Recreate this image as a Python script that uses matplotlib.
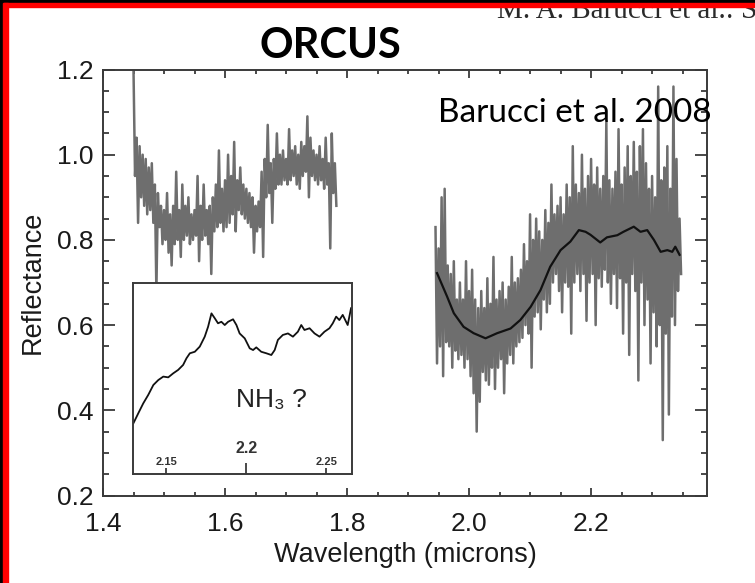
import numpy as np
import matplotlib
matplotlib.use("Agg")
import matplotlib.pyplot as plt
from matplotlib.ticker import MultipleLocator, FixedLocator
from matplotlib.patches import Rectangle

# ---------------- data ----------------
h_start = 1.450
h_step = 0.005
h_hi = [1.20, 1.04, 1.02, 1.00, 0.99, 0.97, 0.98, 0.93, 0.91, 0.88,
        0.87, 0.91, 0.86, 0.88, 0.96, 0.87, 0.93, 0.88, 0.90, 0.86,
        0.87, 0.95, 0.88, 0.93, 0.87, 0.88, 0.90, 0.93, 1.01, 0.92,
        0.94, 1.00, 0.95, 1.03, 0.94, 0.97, 0.93, 0.92, 0.91, 0.90,
        0.88, 0.89, 0.96, 0.99, 1.07, 0.98, 0.99, 1.05, 1.00, 1.01,
        0.99, 1.06, 1.01, 1.02, 1.00, 1.03, 1.02, 1.09, 1.04, 1.01,
        1.00, 1.02, 0.99, 1.04, 0.98, 1.05, 0.98]
h_lo = [0.95, 0.84, 0.90, 0.88, 0.86, 0.87, 0.84, 0.68, 0.83, 0.79,
        0.80, 0.77, 0.74, 0.79, 0.80, 0.76, 0.80, 0.81, 0.79, 0.80,
        0.81, 0.75, 0.80, 0.81, 0.79, 0.72, 0.82, 0.83, 0.84, 0.82,
        0.83, 0.84, 0.86, 0.82, 0.87, 0.86, 0.85, 0.84, 0.83, 0.77,
        0.82, 0.83, 0.76, 0.90, 0.91, 0.84, 0.92, 0.93, 0.93, 0.94,
        0.93, 0.94, 0.95, 0.93, 0.92, 0.95, 0.96, 0.90, 0.95, 0.94,
        0.93, 0.94, 0.92, 0.93, 0.78, 0.91, 0.88]

k_start = 1.945
k_step = 0.005
k_hi = [0.83, 0.78, 0.90, 0.92, 0.74, 0.72, 0.75, 0.66, 0.70, 0.66,
        0.75, 0.68, 0.73, 0.66, 0.64, 0.68, 0.64, 0.71, 0.65, 0.76,
        0.66, 0.68, 0.70, 0.66, 0.69, 0.76, 0.70, 0.71, 0.73, 0.79,
        0.75, 0.86, 0.80, 0.85, 0.82, 0.80, 0.87, 0.84, 0.93, 0.86,
        0.88, 0.90, 0.86, 0.93, 0.90, 1.02, 0.93, 0.91, 1.00, 0.92,
        0.95, 0.99, 0.93, 0.97, 0.92, 0.95, 1.08, 0.94, 0.92, 0.96,
        1.06, 0.93, 0.97, 1.02, 0.95, 1.03, 0.96, 1.02, 1.06, 0.98,
        0.92, 0.95, 0.90, 1.16, 0.94, 0.97, 1.02, 0.92, 1.16, 0.99,
        0.85]
k_lo = [0.51, 0.55, 0.48, 0.56, 0.55, 0.50, 0.54, 0.52, 0.53, 0.50,
        0.52, 0.48, 0.44, 0.35, 0.42, 0.49, 0.47, 0.46, 0.50, 0.45,
        0.50, 0.52, 0.44, 0.51, 0.53, 0.51, 0.55, 0.56, 0.57, 0.60,
        0.58, 0.50, 0.62, 0.63, 0.59, 0.66, 0.63, 0.65, 0.70, 0.72,
        0.68, 0.63, 0.70, 0.69, 0.58, 0.70, 0.72, 0.68, 0.72, 0.61,
        0.70, 0.72, 0.60, 0.71, 0.69, 0.73, 0.70, 0.65, 0.72, 0.64,
        0.71, 0.58, 0.70, 0.53, 0.72, 0.68, 0.47, 0.70, 0.60, 0.66,
        0.51, 0.63, 0.55, 0.60, 0.33, 0.58, 0.39, 0.62, 0.60, 0.68,
        0.72]

smooth_wl = [1.9475, 1.964, 1.975, 1.991, 2.0075, 2.027, 2.046, 2.068,
             2.084, 2.101, 2.117, 2.133, 2.150, 2.166, 2.180, 2.191,
             2.199, 2.215, 2.226, 2.243, 2.253, 2.270, 2.281, 2.292,
             2.303, 2.314, 2.325, 2.333, 2.338, 2.345]
smooth_refl = [0.722, 0.667, 0.628, 0.596, 0.581, 0.569, 0.581, 0.592,
               0.612, 0.643, 0.682, 0.737, 0.776, 0.796, 0.823, 0.819,
               0.812, 0.794, 0.806, 0.811, 0.819, 0.831, 0.819, 0.823,
               0.800, 0.772, 0.776, 0.772, 0.784, 0.765]

inset_wl = [2.1294, 2.1325, 2.1356, 2.1387, 2.1419, 2.1450, 2.1481, 2.1512,
            2.1543, 2.1574, 2.1605, 2.1626, 2.1647, 2.1678, 2.1709, 2.1740,
            2.1761, 2.1782, 2.1803, 2.1823, 2.1844, 2.1865, 2.1886, 2.1917,
            2.1938, 2.1958, 2.1990, 2.2021, 2.2042, 2.2062, 2.2093, 2.2125,
            2.2156, 2.2177, 2.2197, 2.2228, 2.2260, 2.2291, 2.2322, 2.2343,
            2.2363, 2.2395, 2.2426, 2.2457, 2.2488, 2.2519, 2.2540, 2.2561,
            2.2581, 2.2602, 2.2633, 2.2654]
inset_val = [0.265, 0.318, 0.370, 0.414, 0.466, 0.492, 0.510, 0.506,
             0.527, 0.545, 0.571, 0.606, 0.632, 0.640, 0.667, 0.719,
             0.771, 0.841, 0.815, 0.789, 0.797, 0.780, 0.797, 0.810,
             0.780, 0.736, 0.710, 0.658, 0.649, 0.663, 0.640, 0.632,
             0.623, 0.649, 0.702, 0.728, 0.736, 0.719, 0.745, 0.780,
             0.754, 0.763, 0.736, 0.719, 0.745, 0.763, 0.789, 0.824,
             0.806, 0.833, 0.780, 0.868]

x_major = [1.4, 1.6, 1.8, 2.0, 2.2]
x_labels = ["1.4", "1.6", "1.8", "2.0", "2.2"]
y_major = [0.2, 0.4, 0.6, 0.8, 1.0, 1.2]
y_labels = ["0.2", "0.4", "0.6", "0.8", "1.0", "1.2"]
inset_major = [2.2]
inset_minor = [2.15, 2.25]
inset_labels = {2.15: "2.15", 2.2: "2.2", 2.25: "2.25"}

# ---------------- figure ----------------
W, H = 755, 583
fig = plt.figure(figsize=(W / 100, H / 100), dpi=100)
fig.patch.set_facecolor("white")

SANS = ["Liberation Sans", "DejaVu Sans"]
SPINE = "#3a3a3a"


def zigzag(start, step, hi, lo):
    n = len(hi)
    wl = start + step * np.arange(n)
    xs = np.empty(2 * n)
    ys = np.empty(2 * n)
    xs[0::2] = wl
    xs[1::2] = wl + step / 2
    ys[0::2] = hi
    ys[1::2] = lo
    return xs, ys


ax = fig.add_axes([103 / W, 1 - 495.5 / H, (707 - 103) / W, (495.5 - 69.5) / H])
ax.set_xlim(1.4, 2.39)
ax.set_ylim(0.2, 1.2)

for start, step, hi, lo in [(h_start, h_step, h_hi, h_lo), (k_start, k_step, k_hi, k_lo)]:
    xs, ys = zigzag(start, step, hi, lo)
    ax.plot(xs, ys, color="#6e6e6e", lw=1.8, solid_joinstyle="round", zorder=2)

ax.plot(smooth_wl, smooth_refl, color="#111111", lw=1.6, zorder=3)

ax.xaxis.set_major_locator(FixedLocator(x_major))
ax.set_xticklabels(x_labels)
ax.xaxis.set_minor_locator(MultipleLocator(0.05))
ax.yaxis.set_major_locator(FixedLocator(y_major))
ax.set_yticklabels(y_labels)
ax.yaxis.set_minor_locator(MultipleLocator(0.05))

ax.tick_params(axis="both", which="both", direction="in", top=True, right=True,
               color=SPINE, width=1.3, labelcolor="#1a1a1a", labelsize=19)
ax.tick_params(axis="x", which="major", length=6, pad=12)
ax.tick_params(axis="x", which="minor", length=3)
ax.tick_params(axis="y", which="major", length=8.5, pad=7)
ax.tick_params(axis="y", which="minor", length=4.5)
for lab in ax.get_xticklabels() + ax.get_yticklabels():
    lab.set_family(SANS)
for s in ax.spines.values():
    s.set_color(SPINE)
    s.set_linewidth(1.4)

ax.set_xlabel("Wavelength (microns)", family=SANS, fontsize=19.5, color="#1a1a1a", labelpad=4)
ax.set_ylabel("Reflectance", family=SANS, fontsize=19.5, color="#1a1a1a", labelpad=8)

# ---------------- inset ----------------
axi = fig.add_axes([132.7 / W, 1 - 474 / H, (352 - 132.7) / W, (474 - 283) / H])
axi.set_zorder(5)
axi.set_facecolor("white")
axi.plot(inset_wl, inset_val, color="#111111", lw=1.3)
axi.set_xlim(2.129, 2.266)
axi.set_ylim(0.0, 1.0)
axi.set_yticks([])
axi.xaxis.set_major_locator(FixedLocator(inset_major))
axi.xaxis.set_minor_locator(FixedLocator(inset_minor))
axi.tick_params(axis="x", which="both", direction="in", labelbottom=False,
                color=SPINE, width=1.3)
axi.tick_params(axis="x", which="major", length=8)
axi.tick_params(axis="x", which="minor", length=4.5)
for s in axi.spines.values():
    s.set_color(SPINE)
    s.set_linewidth(1.4)
for t, lab in inset_labels.items():
    big = t in inset_major
    axi.text(t, 0.136 if big else 0.064, lab, transform=axi.get_xaxis_transform(),
             ha="center", va="center", family=SANS, fontweight="bold",
             fontsize=11.5 if big else 8, color="#333333")
axi.text(271 / W, 1 - 400 / H, "NH\u2083 ?", transform=fig.transFigure, family=SANS,
         fontsize=19, ha="center", va="center", color="#222222")

# ---------------- slide texts ----------------
fig.text(330 / W, 1 - 58 / H, "ORCUS", family=["Lato", "DejaVu Sans"], fontweight="bold",
         fontsize=30, ha="center", va="baseline", color="black")
fig.text(438 / W, 1 - 122 / H, "Barucci et al. 2008", family=["Lato", "DejaVu Sans"],
         fontsize=24, ha="left", va="baseline", color="black", zorder=10)
fig.text(497 / W, 1 - 18 / H, "M. A. Barucci et al.: S", family=["Liberation Serif", "DejaVu Serif"],
         fontsize=21, ha="left", va="baseline", color="#2a2a2a")

# ---------------- slide frame ----------------
for (x0, y0, w, h, c) in [(0, 0, W, 3, "black"), (3, 3, W, 4, "#ff0000"),
                          (0, 0, 3, H, "black"), (3, 3, 5, H, "#ff0000")]:
    fig.patches.append(Rectangle((x0 / W, 1 - (y0 + h) / H), w / W, h / H,
                                 transform=fig.transFigure, color=c, zorder=20))

fig.savefig("out.png", dpi=100)
